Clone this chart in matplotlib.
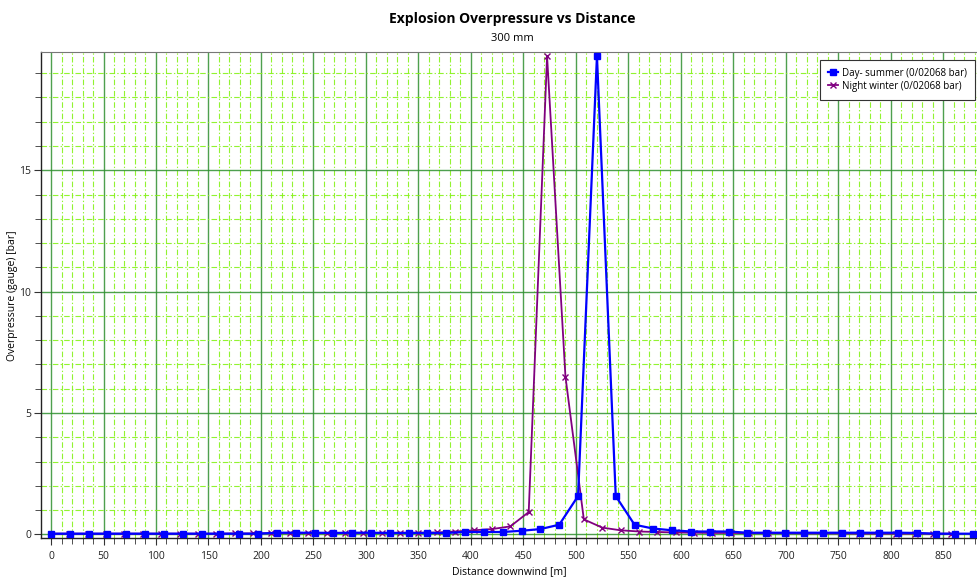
import matplotlib
matplotlib.use("Agg")
import matplotlib.pyplot as plt
from matplotlib.ticker import MultipleLocator

# Day - summer series
day_x = [0.0, 17.9, 35.9, 53.8, 71.7, 89.7, 107.6, 125.5, 143.4, 161.4,
         179.3, 197.2, 215.2, 233.1, 251.0, 268.9, 286.9, 304.8, 322.7, 340.7,
         358.6, 376.5, 394.5, 412.4, 430.3, 448.2, 466.2, 484.1, 502.0, 520.0,
         537.9, 555.8, 573.7, 591.7, 609.6, 627.5, 645.5, 663.4, 681.3, 699.3,
         717.2, 735.1, 753.0, 771.0, 788.9, 806.8, 824.8, 842.7, 860.6, 878.5]
day_y = [0.03, 0.03, 0.03, 0.03, 0.03, 0.03, 0.03, 0.03, 0.03, 0.03,
         0.03, 0.03, 0.07, 0.07, 0.07, 0.06, 0.07, 0.07, 0.06, 0.06,
         0.06, 0.06, 0.10, 0.10, 0.10, 0.15, 0.22, 0.40, 1.58, 19.7,
         1.58, 0.40, 0.24, 0.17, 0.12, 0.12, 0.12, 0.07, 0.07, 0.07,
         0.07, 0.07, 0.07, 0.07, 0.07, 0.07, 0.06, 0.03, 0.03, 0.03]

# Night - winter series
night_x = [0.0, 17.5, 35.0, 52.5, 70.0, 87.5, 105.0, 122.5, 140.0, 157.5,
           175.0, 192.5, 210.0, 227.5, 245.0, 262.5, 280.0, 297.5, 315.0, 332.5,
           350.0, 367.5, 385.0, 402.5, 420.0, 437.5, 455.0, 472.5, 490.0, 507.5,
           525.0, 542.5, 560.0, 577.5, 595.0, 612.5, 630.0, 647.5, 665.0, 682.5,
           700.0, 717.5, 735.0, 752.5, 770.0, 787.5, 805.0, 822.5, 840.0, 857.5]
night_y = [0.03, 0.03, 0.03, 0.03, 0.03, 0.03, 0.03, 0.03, 0.03, 0.03,
           0.04, 0.04, 0.05, 0.05, 0.05, 0.05, 0.06, 0.06, 0.06, 0.07,
           0.07, 0.08, 0.12, 0.17, 0.22, 0.33, 0.92, 19.7, 6.5, 0.62,
           0.28, 0.17, 0.12, 0.10, 0.08, 0.07, 0.06, 0.06, 0.05, 0.05,
           0.05, 0.04, 0.04, 0.04, 0.03, 0.03, 0.03, 0.03, 0.03, 0.03]

day_label = "Day- summer (0/02068 bar)"
night_label = "Night winter (0/02068 bar)"

plt.rcParams['font.family'] = ['Open Sans', 'DejaVu Sans']

fig = plt.figure(figsize=(9.77, 5.86), dpi=100)
ax = fig.add_axes([0.042, 0.0814, 0.958, 0.8294])

ax.plot(day_x, day_y, color='#0000FF', lw=1.6, marker='s', ms=4.5,
        mec='#0000FF', mfc='#0000FF', label=day_label, zorder=4)
ax.plot(night_x, night_y, color='#800080', lw=1.3, marker='x', ms=4,
        mew=1.0, label=night_label, zorder=3)

ax.set_xlim(-9.5, 882)
ax.set_ylim(-0.16, 19.86)

ax.xaxis.set_major_locator(MultipleLocator(50))
ax.xaxis.set_minor_locator(MultipleLocator(10))
ax.yaxis.set_major_locator(MultipleLocator(5))
ax.yaxis.set_minor_locator(MultipleLocator(1))

ax.grid(which='minor', color='#86F21A', lw=0.8, ls=(0, (5, 2, 1.2, 2)),
        alpha=0.9)
ax.grid(which='major', color='#2F8F2F', lw=1.0, ls='-', alpha=0.85)
ax.set_axisbelow(True)

ax.tick_params(axis='both', which='major', labelsize=7.5, length=5,
               color='#333333', labelcolor='#222222')
ax.tick_params(axis='both', which='minor', length=4, color='#333333')
ax.tick_params(axis='x', pad=4)
ax.tick_params(axis='y', pad=2)

for s in ('left', 'bottom'):
    ax.spines[s].set_color('#222222')
    ax.spines[s].set_linewidth(1.0)
ax.spines['top'].set_color('#777777')
ax.spines['right'].set_visible(False)

ax.set_xlabel("Distance downwind [m]", fontsize=7.5, labelpad=3)
ax.set_ylabel("Overpressure (gauge) [bar]", fontsize=7.5, labelpad=1)

fig.text(0.524, 0.968, "Explosion Overpressure vs Distance", ha='center',
         va='center', fontsize=10, fontweight='bold')
fig.text(0.524, 0.935, "300 mm", ha='center', va='center', fontsize=8)

leg = ax.legend(loc='upper right', bbox_to_anchor=(0.998, 0.984),
                borderaxespad=0, fontsize=7, fancybox=False,
                edgecolor='#333333', framealpha=1, handlelength=1.1,
                handletextpad=0.4, borderpad=0.8, labelspacing=0.2)
leg.get_frame().set_linewidth(0.8)

fig.savefig("out.png", dpi=100)
